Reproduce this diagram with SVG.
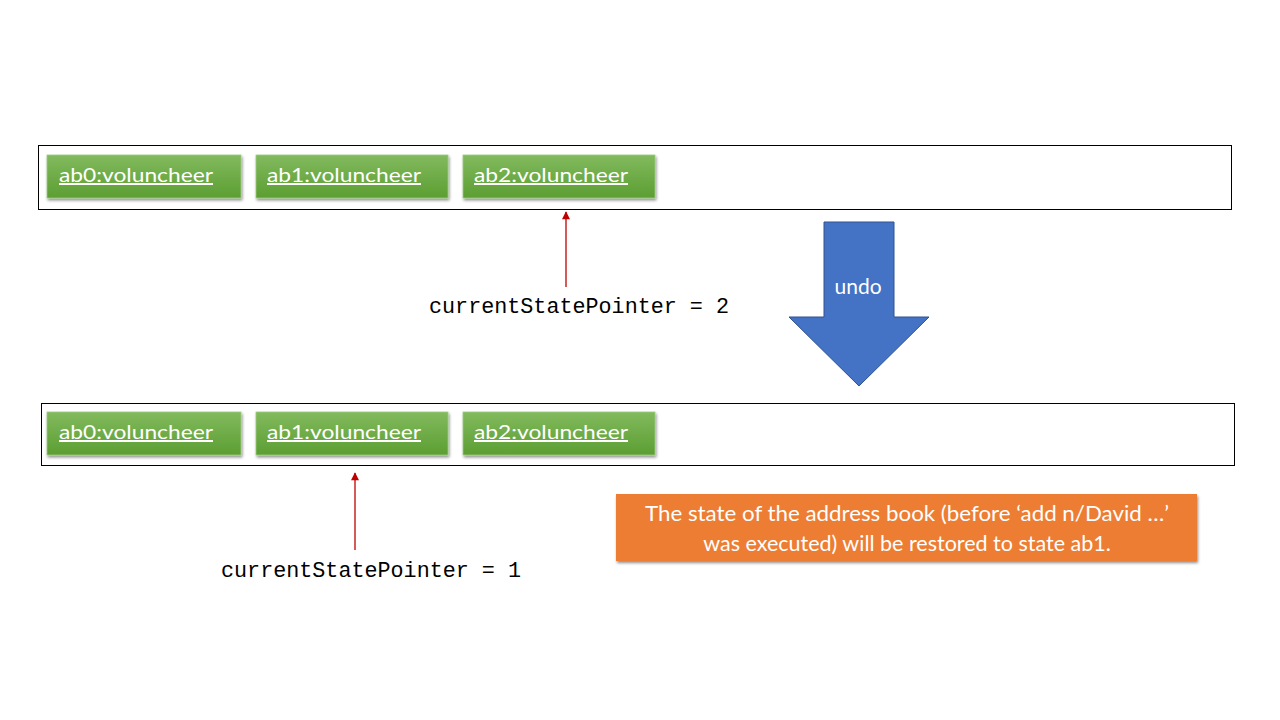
<svg xmlns="http://www.w3.org/2000/svg" width="1280" height="720" viewBox="0 0 1280 720">
<defs>
<linearGradient id="g" x1="0" y1="0" x2="0" y2="1">
<stop offset="0" stop-color="#82BA5E"/>
<stop offset="1" stop-color="#5C9E32"/>
</linearGradient>
<filter id="sh" x="-10%" y="-20%" width="120%" height="150%">
<feGaussianBlur in="SourceAlpha" stdDeviation="1.5"/>
<feOffset dx="1" dy="2"/>
<feComponentTransfer><feFuncA type="linear" slope="0.45"/></feComponentTransfer>
<feMerge><feMergeNode/><feMergeNode in="SourceGraphic"/></feMerge>
</filter>
<marker id="ah" viewBox="0 0 10 10" refX="9" refY="5" markerWidth="9" markerHeight="8" markerUnits="userSpaceOnUse" orient="auto">
<path d="M0,0 L10,5 L0,10 Z" fill="#C00000"/>
</marker>
</defs>
<style>
.frame{fill:#fff;stroke:#000;stroke-width:1}
.state{fill:url(#g);stroke:#9CCB80;stroke-width:0.8;filter:url(#sh)}
.lbl{font-family:Lato,"Open Sans",sans-serif;font-size:20px;fill:#fff;text-decoration:underline}
.mono{font-family:"Liberation Mono","DejaVu Sans Mono",monospace;font-size:22px;fill:#000}
.ptr{stroke:#C00000;stroke-width:1.3;fill:none}
.note{font-family:Lato,"Open Sans",sans-serif;font-size:21.5px;fill:#fff;text-anchor:middle}
</style>
<rect width="1280" height="720" fill="#fff"/>

<g id="topFrame">
<rect class="frame" x="38.5" y="145.5" width="1193" height="64"/>
</g>
<g id="top_ab0">
<rect class="state" x="47" y="155" width="194" height="43"/>
<text class="lbl" x="59" y="182" textLength="154" lengthAdjust="spacingAndGlyphs">ab0:voluncheer</text>
</g>
<g id="top_ab1">
<rect class="state" x="256" y="155" width="192" height="43"/>
<text class="lbl" x="267" y="182" textLength="154" lengthAdjust="spacingAndGlyphs">ab1:voluncheer</text>
</g>
<g id="top_ab2">
<rect class="state" x="463" y="155" width="192" height="43"/>
<text class="lbl" x="474" y="182" textLength="154" lengthAdjust="spacingAndGlyphs">ab2:voluncheer</text>
</g>

<g id="bottomFrame">
<rect class="frame" x="41.5" y="403.5" width="1193" height="62"/>
</g>
<g id="bot_ab0">
<rect class="state" x="47" y="412" width="194" height="43"/>
<text class="lbl" x="59" y="439" textLength="154" lengthAdjust="spacingAndGlyphs">ab0:voluncheer</text>
</g>
<g id="bot_ab1">
<rect class="state" x="256" y="412" width="192" height="43"/>
<text class="lbl" x="267" y="439" textLength="154" lengthAdjust="spacingAndGlyphs">ab1:voluncheer</text>
</g>
<g id="bot_ab2">
<rect class="state" x="463" y="412" width="192" height="43"/>
<text class="lbl" x="474" y="439" textLength="154" lengthAdjust="spacingAndGlyphs">ab2:voluncheer</text>
</g>

<g id="connectors">
<line class="ptr" x1="566" y1="287" x2="566" y2="212" marker-end="url(#ah)"/>
<line class="ptr" x1="355" y1="550" x2="355" y2="473" marker-end="url(#ah)"/>
</g>

<g id="ptrLabelTop">
<text class="mono" x="429" y="313" textLength="300" lengthAdjust="spacingAndGlyphs">currentStatePointer = 2</text>
</g>
<g id="ptrLabelBottom">
<text class="mono" x="221" y="577" textLength="300" lengthAdjust="spacingAndGlyphs">currentStatePointer = 1</text>
</g>

<g id="undoArrow">
<path d="M824,222 L894,222 L894,317 L929,317 L859,386 L789,317 L824,317 Z" fill="#4472C4" stroke="#2F528F" stroke-width="1"/>
<text x="858" y="294" font-family="Lato,'Open Sans',sans-serif" font-size="21" fill="#fff" text-anchor="middle">undo</text>
</g>

<g id="note">
<rect x="616" y="494" width="581" height="67" fill="#ED7D31" filter="url(#sh)"/>
<text class="note" x="907" y="521" textLength="524" lengthAdjust="spacingAndGlyphs">The state of the address book (before ‘add n/David …’</text>
<text class="note" x="907" y="551">was executed) will be restored to state ab1.</text>
</g>
</svg>
